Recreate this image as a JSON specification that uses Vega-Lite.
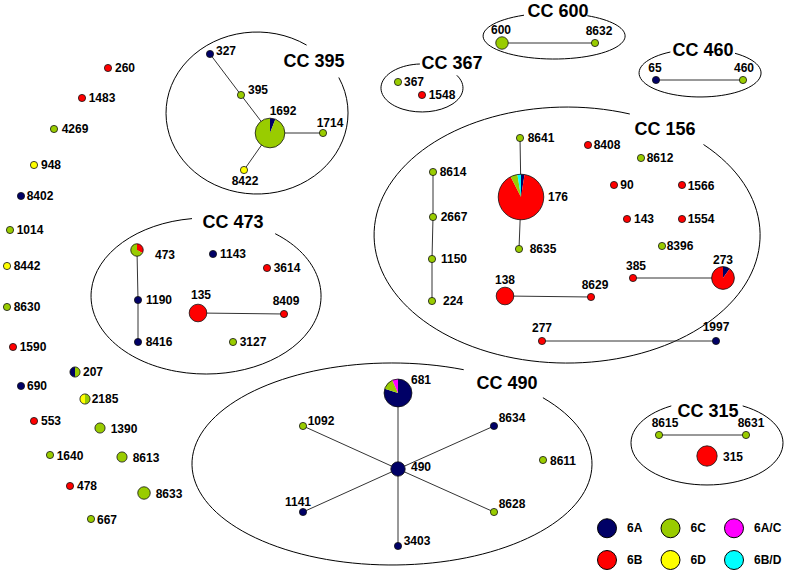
{
  "$schema": "https://vega.github.io/schema/vega-lite/v6.json",
  "width": 788,
  "height": 574,
  "autosize": {"type": "none"},
  "padding": 0,
  "background": "white",
  "config": {"view": {"stroke": null}, "axis": {"disable": true}},
  "datasets": {
    "nodes": [
      {"id":"260","x":108,"y":68,"lx":125,"ly":68},
      {"id":"1483","x":82,"y":98,"lx":102,"ly":98},
      {"id":"4269","x":54,"y":129,"lx":75,"ly":129},
      {"id":"948","x":34,"y":165,"lx":51,"ly":165},
      {"id":"8402","x":21,"y":196,"lx":40,"ly":196},
      {"id":"1014","x":10,"y":230,"lx":30,"ly":230},
      {"id":"8442","x":7,"y":266,"lx":27,"ly":266},
      {"id":"8630","x":7,"y":307,"lx":27,"ly":307},
      {"id":"1590","x":13,"y":347,"lx":33,"ly":347},
      {"id":"207","x":75,"y":372,"lx":93,"ly":372},
      {"id":"690","x":21,"y":386,"lx":37,"ly":386},
      {"id":"2185","x":85,"y":399,"lx":105,"ly":399},
      {"id":"553","x":34,"y":421,"lx":51,"ly":421},
      {"id":"1390","x":100,"y":428,"lx":124,"ly":429},
      {"id":"1640","x":50,"y":455,"lx":70,"ly":456},
      {"id":"8613","x":122,"y":457,"lx":146,"ly":458},
      {"id":"478","x":70,"y":486,"lx":87,"ly":486},
      {"id":"8633","x":144,"y":493,"lx":169,"ly":494},
      {"id":"667","x":91,"y":519,"lx":107,"ly":520},
      {"id":"327","x":210,"y":54,"lx":226,"ly":51},
      {"id":"395","x":241,"y":95,"lx":258,"ly":90},
      {"id":"1692","x":270,"y":133,"lx":283,"ly":111},
      {"id":"1714","x":323,"y":133,"lx":330,"ly":123},
      {"id":"8422","x":244,"y":170,"lx":245,"ly":181},
      {"id":"367","x":398,"y":82,"lx":414,"ly":82},
      {"id":"1548","x":422,"y":95,"lx":442,"ly":95},
      {"id":"600","x":502,"y":43,"lx":501,"ly":30},
      {"id":"8632","x":595,"y":43,"lx":599,"ly":31},
      {"id":"65","x":656,"y":80,"lx":655,"ly":68},
      {"id":"460","x":743,"y":80,"lx":744,"ly":68},
      {"id":"8641","x":520,"y":138,"lx":541,"ly":138},
      {"id":"176","x":521,"y":197,"lx":558,"ly":197},
      {"id":"8635","x":519,"y":249,"lx":543,"ly":249},
      {"id":"8614","x":433,"y":172,"lx":453,"ly":172},
      {"id":"2667","x":433,"y":217,"lx":454,"ly":217},
      {"id":"1150","x":432,"y":259,"lx":454,"ly":259},
      {"id":"224","x":432,"y":301,"lx":453,"ly":301},
      {"id":"8408","x":588,"y":145,"lx":607,"ly":145},
      {"id":"8612","x":641,"y":158,"lx":660,"ly":158},
      {"id":"90","x":614,"y":185,"lx":627,"ly":185},
      {"id":"1566","x":682,"y":185,"lx":701,"ly":186},
      {"id":"143","x":627,"y":219,"lx":644,"ly":219},
      {"id":"1554","x":682,"y":219,"lx":701,"ly":219},
      {"id":"8396","x":662,"y":246,"lx":680,"ly":246},
      {"id":"385","x":633,"y":278,"lx":636,"ly":266},
      {"id":"273","x":723,"y":278,"lx":723,"ly":260},
      {"id":"138","x":505,"y":296,"lx":505,"ly":280},
      {"id":"8629","x":591,"y":297,"lx":595,"ly":285},
      {"id":"277","x":542,"y":341,"lx":542,"ly":328},
      {"id":"1997","x":716,"y":341,"lx":716,"ly":327},
      {"id":"473","x":137,"y":250,"lx":165,"ly":255},
      {"id":"1143","x":213,"y":254,"lx":233,"ly":254},
      {"id":"3614","x":267,"y":268,"lx":287,"ly":268},
      {"id":"1190","x":138,"y":300,"lx":159,"ly":300},
      {"id":"135","x":198,"y":313,"lx":201,"ly":295},
      {"id":"8409","x":284,"y":314,"lx":286,"ly":301},
      {"id":"8416","x":138,"y":342,"lx":159,"ly":342},
      {"id":"3127","x":233,"y":342,"lx":253,"ly":342},
      {"id":"681","x":398,"y":393,"lx":421,"ly":380},
      {"id":"490","x":398,"y":469,"lx":421,"ly":467},
      {"id":"1092","x":303,"y":426,"lx":321,"ly":421},
      {"id":"8634","x":494,"y":426,"lx":512,"ly":418},
      {"id":"8611","x":543,"y":460,"lx":563,"ly":461},
      {"id":"1141","x":303,"y":512,"lx":298,"ly":502},
      {"id":"8628","x":494,"y":512,"lx":512,"ly":504},
      {"id":"3403","x":398,"y":546,"lx":417,"ly":541},
      {"id":"8615","x":659,"y":435,"lx":665,"ly":423},
      {"id":"8631","x":746,"y":435,"lx":751,"ly":423},
      {"id":"315","x":707,"y":456,"lx":733,"ly":457}
    ],
    "slices": [
      {"id":"260","t":"6B","c":1},
      {"id":"1483","t":"6B","c":1},
      {"id":"4269","t":"6C","c":1},
      {"id":"948","t":"6D","c":1},
      {"id":"8402","t":"6A","c":1},
      {"id":"1014","t":"6C","c":1},
      {"id":"8442","t":"6D","c":1},
      {"id":"8630","t":"6C","c":1},
      {"id":"1590","t":"6B","c":1},
      {"id":"207","t":"6C","c":1},
      {"id":"207","t":"6A","c":1},
      {"id":"690","t":"6A","c":1},
      {"id":"2185","t":"6C","c":1},
      {"id":"2185","t":"6D","c":1},
      {"id":"553","t":"6B","c":1},
      {"id":"1390","t":"6C","c":2},
      {"id":"1640","t":"6C","c":1},
      {"id":"8613","t":"6C","c":2},
      {"id":"478","t":"6B","c":1},
      {"id":"8633","t":"6C","c":3},
      {"id":"667","t":"6C","c":1},
      {"id":"327","t":"6A","c":1},
      {"id":"395","t":"6C","c":1},
      {"id":"1692","t":"6A","c":1},
      {"id":"1692","t":"6C","c":16},
      {"id":"1714","t":"6C","c":1},
      {"id":"8422","t":"6D","c":1},
      {"id":"367","t":"6C","c":1},
      {"id":"1548","t":"6B","c":1},
      {"id":"600","t":"6C","c":3},
      {"id":"8632","t":"6C","c":1},
      {"id":"65","t":"6A","c":1},
      {"id":"460","t":"6C","c":1},
      {"id":"8641","t":"6C","c":1},
      {"id":"176","t":"6A","c":1},
      {"id":"176","t":"6B","c":36},
      {"id":"176","t":"6C","c":2},
      {"id":"176","t":"6B/D","c":1},
      {"id":"8635","t":"6C","c":1},
      {"id":"8614","t":"6C","c":1},
      {"id":"2667","t":"6C","c":1},
      {"id":"1150","t":"6C","c":1},
      {"id":"224","t":"6C","c":1},
      {"id":"8408","t":"6B","c":1},
      {"id":"8612","t":"6C","c":1},
      {"id":"90","t":"6B","c":1},
      {"id":"1566","t":"6B","c":1},
      {"id":"143","t":"6B","c":1},
      {"id":"1554","t":"6B","c":1},
      {"id":"8396","t":"6C","c":1},
      {"id":"385","t":"6B","c":1},
      {"id":"273","t":"6A","c":1},
      {"id":"273","t":"6B","c":9},
      {"id":"138","t":"6B","c":6},
      {"id":"8629","t":"6B","c":1},
      {"id":"277","t":"6B","c":1},
      {"id":"1997","t":"6A","c":1},
      {"id":"473","t":"6B","c":1},
      {"id":"473","t":"6C","c":2},
      {"id":"1143","t":"6A","c":1},
      {"id":"3614","t":"6B","c":1},
      {"id":"1190","t":"6A","c":1},
      {"id":"135","t":"6B","c":6},
      {"id":"8409","t":"6B","c":1},
      {"id":"8416","t":"6A","c":1},
      {"id":"3127","t":"6C","c":1},
      {"id":"681","t":"6A","c":12},
      {"id":"681","t":"6C","c":2},
      {"id":"681","t":"6A/C","c":1},
      {"id":"490","t":"6A","c":4},
      {"id":"1092","t":"6C","c":1},
      {"id":"8634","t":"6A","c":1},
      {"id":"8611","t":"6C","c":1},
      {"id":"1141","t":"6A","c":1},
      {"id":"8628","t":"6C","c":1},
      {"id":"3403","t":"6A","c":1},
      {"id":"8615","t":"6C","c":1},
      {"id":"8631","t":"6C","c":1},
      {"id":"315","t":"6B","c":8}
    ],
    "edges": [
      {"s":"327","e":"395"},{"s":"395","e":"1692"},{"s":"1692","e":"1714"},{"s":"1692","e":"8422"},
      {"s":"600","e":"8632"},{"s":"65","e":"460"},
      {"s":"8641","e":"176"},{"s":"176","e":"8635"},{"s":"8614","e":"2667"},{"s":"2667","e":"1150"},{"s":"1150","e":"224"},
      {"s":"385","e":"273"},{"s":"138","e":"8629"},{"s":"277","e":"1997"},
      {"s":"473","e":"1190"},{"s":"1190","e":"8416"},{"s":"135","e":"8409"},
      {"s":"490","e":"681"},{"s":"490","e":"1092"},{"s":"490","e":"8634"},{"s":"490","e":"1141"},{"s":"490","e":"8628"},{"s":"490","e":"3403"},
      {"s":"8615","e":"8631"}
    ],
    "groups": [
      {"cc":"CC 395","x":257,"y":113,"lx":314,"ly":62},
      {"cc":"CC 367","x":422,"y":88,"lx":452,"ly":64},
      {"cc":"CC 600","x":554,"y":36,"lx":558,"ly":12},
      {"cc":"CC 460","x":700,"y":73,"lx":703,"ly":51},
      {"cc":"CC 156","x":567,"y":235,"lx":665,"ly":130},
      {"cc":"CC 473","x":206,"y":296,"lx":233,"ly":223},
      {"cc":"CC 490","x":392,"y":464,"lx":507,"ly":384},
      {"cc":"CC 315","x":707,"y":443,"lx":708,"ly":412}
    ]
  },
  "layer": [
    {
      "data": {"name": "groups"},
      "mark": {"type": "point", "size": 4, "filled": false, "stroke": "black", "strokeWidth": 1, "opacity": 1},
      "encoding": {
        "x": {"field": "x", "type": "quantitative", "scale": {"domain": [0, 788], "nice": false, "zero": false}},
        "y": {"field": "y", "type": "quantitative", "scale": {"domain": [0, 574], "nice": false, "zero": false, "reverse": true}},
        "shape": {
          "field": "cc", "type": "nominal", "legend": null,
          "scale": {
            "domain": ["CC 395","CC 367","CC 600","CC 460","CC 156","CC 473","CC 490","CC 315"],
            "range": [
              "M81.8,-35.5A91,81,0,1,1,49.6,-67.9",
              "M34.8,-12.7A41,24,0,1,1,-2.1,-24",
              "M33.3,-20.3A71,23,0,1,1,-30,-20.8",
              "M35,-19.7A61,24,0,1,1,-29.6,-21",
              "M136.5,-90.5A193,128,0,1,1,62.8,-121",
              "M69.2,-62.3A115,78,0,1,1,-14,-77.4",
              "M150.9,-66.3A200,101,0,1,1,71.7,-94.3",
              "M35.7,-37.1A76,42,0,1,1,-35.7,-37.1"
            ]
          }
        }
      }
    },
    {
      "data": {"name": "groups"},
      "mark": {"type": "text", "font": "Liberation Sans", "fontWeight": "bold", "fontSize": 18, "align": "center", "baseline": "middle", "color": "black"},
      "encoding": {
        "x": {"field": "lx", "type": "quantitative"},
        "y": {"field": "ly", "type": "quantitative"},
        "text": {"field": "cc"}
      }
    },
    {
      "data": {"name": "edges"},
      "transform": [
        {"lookup": "s", "from": {"data": {"name": "nodes"}, "key": "id", "fields": ["x", "y"]}, "as": ["x1", "y1"]},
        {"lookup": "e", "from": {"data": {"name": "nodes"}, "key": "id", "fields": ["x", "y"]}, "as": ["x2", "y2"]}
      ],
      "mark": {"type": "rule", "color": "#333333", "strokeWidth": 1},
      "encoding": {
        "x": {"field": "x1", "type": "quantitative"},
        "y": {"field": "y1", "type": "quantitative"},
        "x2": {"field": "x2"},
        "y2": {"field": "y2"}
      }
    },
    {
      "data": {"name": "slices"},
      "transform": [
        {"lookup": "id", "from": {"data": {"name": "nodes"}, "key": "id", "fields": ["x", "y"]}},
        {"joinaggregate": [{"op": "sum", "field": "c", "as": "N"}], "groupby": ["id"]},
        {"stack": "c", "groupby": ["id"], "offset": "normalize", "as": ["t0", "t1"]}
      ],
      "mark": {"type": "arc", "stroke": null},
      "encoding": {
        "x": {"field": "x", "type": "quantitative"},
        "y": {"field": "y", "type": "quantitative"},
        "theta": {"field": "t0", "type": "quantitative", "scale": {"domain": [0, 1], "range": [0, 6.283185307], "nice": false, "zero": false}},
        "theta2": {"field": "t1"},
        "radius": {"field": "N", "type": "quantitative", "scale": {"type": "sqrt", "domain": [0, 40], "range": [0, 22.77], "zero": true, "nice": false}},
        "color": {
          "field": "t", "type": "nominal",
          "scale": {
            "domain": ["6A", "6B", "6C", "6D", "6A/C", "6B/D"],
            "range": ["#000066", "#ff0000", "#99cc00", "#ffff00", "#ff00ff", "#00ffff"]
          },
          "legend": {
            "title": null, "orient": "none", "legendX": 597, "legendY": 518, "columns": 3,
            "symbolType": "circle", "symbolSize": 361, "symbolStrokeColor": "black", "symbolStrokeWidth": 1, "symbolOpacity": 1,
            "labelFont": "Liberation Sans", "labelFontWeight": "bold", "labelFontSize": 12, "labelColor": "black",
            "labelOffset": 10, "columnPadding": 15.5, "rowPadding": 8, "padding": 0
          }
        }
      }
    },
    {
      "data": {"name": "slices"},
      "transform": [
        {"aggregate": [{"op": "sum", "field": "c", "as": "N"}], "groupby": ["id"]},
        {"lookup": "id", "from": {"data": {"name": "nodes"}, "key": "id", "fields": ["x", "y"]}}
      ],
      "mark": {"type": "point", "shape": "circle", "filled": false, "stroke": "#111111", "strokeWidth": 0.8, "opacity": 1},
      "encoding": {
        "x": {"field": "x", "type": "quantitative"},
        "y": {"field": "y", "type": "quantitative"},
        "size": {"field": "N", "type": "quantitative", "legend": null, "scale": {"type": "linear", "domain": [0, 40], "range": [0, 2073.6], "zero": true, "nice": false}}
      }
    },
    {
      "data": {"name": "nodes"},
      "mark": {"type": "text", "font": "Liberation Sans", "fontWeight": "bold", "fontSize": 12, "align": "center", "baseline": "middle", "color": "black"},
      "encoding": {
        "x": {"field": "lx", "type": "quantitative"},
        "y": {"field": "ly", "type": "quantitative"},
        "text": {"field": "id"}
      }
    }
  ]
}
